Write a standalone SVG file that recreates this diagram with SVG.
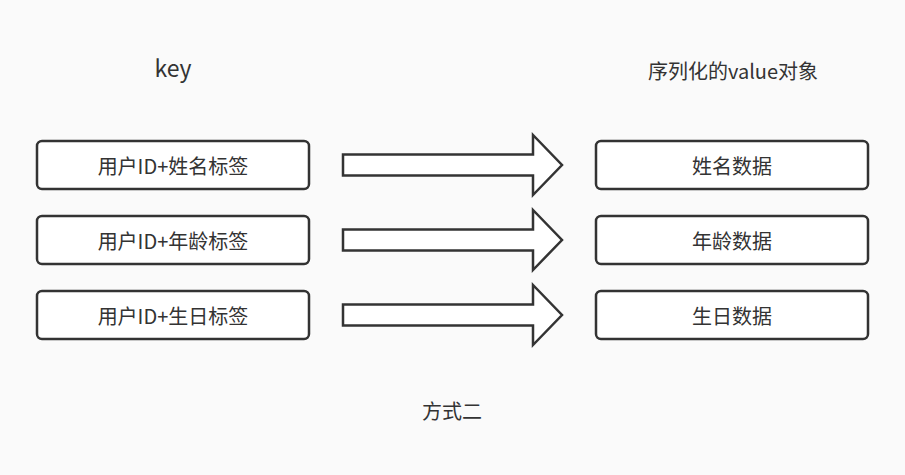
<svg xmlns="http://www.w3.org/2000/svg" width="905" height="475" viewBox="0 0 905 475">
<style>
.box{fill:#fff;stroke:#333;stroke-width:2.5}
.arr{fill:#fff;stroke:#333;stroke-width:2.5;stroke-linejoin:miter}
.t{font-family:"Noto Sans CJK SC","Noto Sans",sans-serif;font-size:20px;fill:#333;text-anchor:middle;dominant-baseline:central}
</style>
<rect width="905" height="475" fill="#fafafa"/>
<text class="t" x="173" y="67" style="font-size:23px">key</text>
<text class="t" x="733" y="70">序列化的value对象</text>
<text class="t" x="452" y="410">方式二</text>
<g id="k1"><rect class="box" x="37" y="141" width="272" height="48" rx="5"/><text class="t" x="173" y="165">用户ID+姓名标签</text></g>
<g id="k2"><rect class="box" x="37" y="216" width="272" height="48" rx="5"/><text class="t" x="173" y="240">用户ID+年龄标签</text></g>
<g id="k3"><rect class="box" x="37" y="291" width="272" height="48" rx="5"/><text class="t" x="173" y="315">用户ID+生日标签</text></g>
<g id="v1"><rect class="box" x="596" y="141" width="272" height="48" rx="5"/><text class="t" x="732" y="165">姓名数据</text></g>
<g id="v2"><rect class="box" x="596" y="216" width="272" height="48" rx="5"/><text class="t" x="732" y="240">年龄数据</text></g>
<g id="v3"><rect class="box" x="596" y="291" width="272" height="48" rx="5"/><text class="t" x="732" y="315">生日数据</text></g>
<g id="connectors">
<path class="arr" d="M343,154.5 H533 V135 L562,165 L533,195 V175.5 H343 Z"/>
<path class="arr" d="M343,229.5 H533 V210 L562,240 L533,270 V250.5 H343 Z"/>
<path class="arr" d="M343,304.5 H533 V285 L562,315 L533,345 V325.5 H343 Z"/>
</g>
</svg>
